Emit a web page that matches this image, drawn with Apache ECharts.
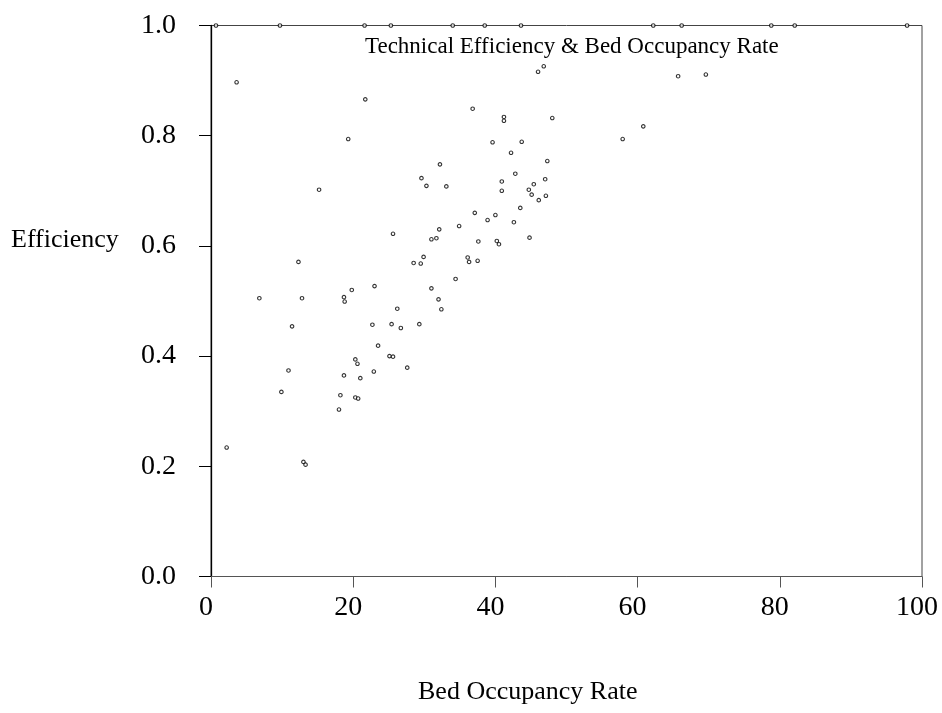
<!DOCTYPE html>
<html>
<head>
<meta charset="utf-8">
<script src="https://cdn.jsdelivr.net/npm/echarts@6/dist/echarts.min.js"></script>
<style>
  html, body { margin: 0; padding: 0; background: #fff; }
  #chart { width: 942px; height: 713px; }
</style>
</head>
<body>
<div id="chart"></div>
<script>
// 数据: 病床使用率 / 技术效率
var bedRate = [
    0.7, 9.7, 21.6, 25.3, 34.0, 38.5, 43.6, 62.2, 66.2, 78.8, 82.1, 97.9,
    3.6, 21.7, 36.8, 41.2, 41.2, 46.0, 46.8, 48.0, 19.3, 39.6, 43.7, 42.2,
    32.2, 47.3, 42.8, 29.6, 30.3, 33.1, 15.2, 40.9, 40.9, 47.0, 45.4, 44.7,
    45.1, 47.1, 46.1, 43.5, 65.7, 69.6, 60.8, 57.9, 37.1, 40.0, 38.9, 42.6,
    34.9, 32.1, 25.6, 31.0, 31.7, 37.6, 40.2, 40.5, 44.8, 12.3, 28.5, 29.5,
    29.9, 36.1, 36.3, 37.5, 34.4, 23.0, 19.8, 31.0, 6.8, 12.8, 18.7, 18.8,
    32.0, 32.4, 26.2, 11.4, 22.7, 25.4, 26.7, 29.3, 23.5, 25.1, 25.6, 20.3,
    20.6, 27.6, 10.9, 18.7, 22.9, 21.0, 9.9, 18.2, 20.3, 20.7, 18.0, 2.2,
    13.0, 13.3
];
var efficiency = [
    1.0, 1.0, 1.0, 1.0, 1.0, 1.0, 1.0, 1.0, 1.0, 1.0, 1.0, 1.0,
    0.897, 0.866, 0.849, 0.834, 0.827, 0.916, 0.926, 0.832, 0.794, 0.788, 0.789, 0.769,
    0.748, 0.754, 0.731, 0.723, 0.709, 0.708, 0.702, 0.717, 0.700, 0.721, 0.712, 0.702,
    0.693, 0.691, 0.683, 0.669, 0.908, 0.911, 0.817, 0.794, 0.660, 0.656, 0.647, 0.643,
    0.636, 0.630, 0.622, 0.612, 0.614, 0.608, 0.609, 0.603, 0.615, 0.571, 0.569, 0.568,
    0.580, 0.579, 0.571, 0.573, 0.540, 0.527, 0.520, 0.523, 0.505, 0.505, 0.507, 0.499,
    0.503, 0.485, 0.486, 0.454, 0.457, 0.458, 0.451, 0.458, 0.419, 0.400, 0.399, 0.394,
    0.386, 0.379, 0.374, 0.365, 0.372, 0.360, 0.335, 0.329, 0.325, 0.323, 0.303, 0.234,
    0.208, 0.203
];
var xTicks = [0, 20, 40, 60, 80, 100];
var yTicks = [0.0, 0.2, 0.4, 0.6, 0.8, 1.0];

var serif = 'Liberation Serif';

//绘制散点图
function drawChart(){
    var chart = echarts.init(document.getElementById('chart'));

    var points = [];
    for (var i = 0; i < bedRate.length; i++) {
        points.push([bedRate[i], efficiency[i]]);
    }

    var option = {
        backgroundColor: '#fff',
        animation: false,
        title: [
            {
                text: 'Technical Efficiency & Bed Occupancy Rate',
                left: 365, top: 35, padding: 0,
                textStyle: { fontFamily: serif, fontSize: 23, fontWeight: 'normal', color: '#000' }
            },
            {
                text: 'Efficiency',
                left: 11, top: 227, padding: 0,
                textStyle: { fontFamily: serif, fontSize: 26, fontWeight: 'normal', color: '#000' }
            },
            {
                text: 'Bed Occupancy Rate',
                left: 418, top: 679, padding: 0,
                textStyle: { fontFamily: serif, fontSize: 26, fontWeight: 'normal', color: '#000' }
            }
        ],
        grid: {
            left: 211,
            right: 20,
            top: 25.5,
            bottom: 136.5,
            show: true,
            borderColor: '#444',
            borderWidth: 1,
            backgroundColor: 'transparent'
        },
        xAxis: {
            type: 'value',
            min: xTicks[0],
            max: xTicks[xTicks.length - 1],
            interval: 20,
            splitLine: { show: false },
            axisLine: { show: true, onZero: false, lineStyle: { color: '#555', width: 1 } },
            axisTick: { show: true, length: 11, lineStyle: { color: '#555' } },
            axisLabel: {
                margin: 17,
                padding: [0, 10, 0, 0],
                fontFamily: serif,
                fontSize: 28,
                color: '#000'
            }
        },
        yAxis: {
            type: 'value',
            min: yTicks[0],
            max: yTicks[yTicks.length - 1],
            interval: 0.2,
            splitLine: { show: false },
            axisLine: { show: true, onZero: false, lineStyle: { color: '#000', width: 1.3 } },
            axisTick: { show: true, length: 12, lineStyle: { color: '#000' } },
            axisLabel: {
                margin: 35,
                padding: [0, 0, 4, 0],
                fontFamily: serif,
                fontSize: 28,
                color: '#000',
                formatter: function (v) { return v.toFixed(1); }
            }
        },
        series: [
            {
                type: 'scatter',
                data: points,
                clip: false,
                symbol: 'circle',
                symbolSize: 3.5,
                itemStyle: {
                    color: '#fff',
                    borderColor: '#000',
                    borderWidth: 1.1
                }
            }
        ]
    };

    chart.setOption(option);
}

drawChart();
</script>
</body>
</html>
